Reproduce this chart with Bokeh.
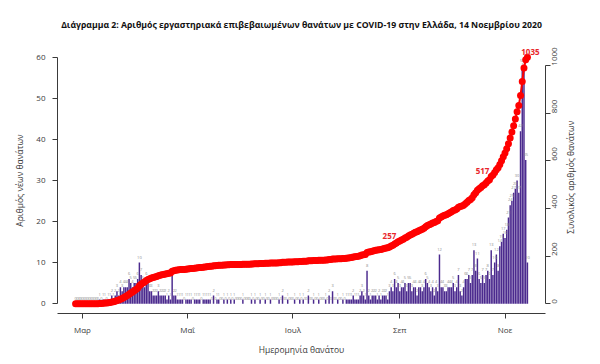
import numpy as np
import pandas as pd
from bokeh.plotting import figure
from bokeh.models import Range1d, LinearAxis, FixedTicker, ColumnDataSource
from bokeh.core.properties import value
from bokeh.embed import file_html
from bokeh.resources import INLINE

# ---------------- data ----------------
start_date = "2020-02-26"
end_date = "2020-11-14"

deaths_feb = [0, 0, 0, 0]
deaths_mar = [0, 0, 0, 0, 0, 0, 0, 0, 0, 0,
              1, 0, 1, 1, 0, 1, 1, 2, 1, 2,
              3, 2, 4, 3, 4, 4, 4, 6, 5, 4, 5]
deaths_apr = [5, 6, 10, 7, 5, 4, 6, 5, 3, 3,
              2, 2, 2, 3, 2, 2, 2, 2, 1, 2,
              1, 7, 2, 2, 1, 1, 1, 1, 0, 1]
deaths_may = [1, 1, 1, 0, 1, 1, 1, 1, 0, 1,
              1, 1, 1, 1, 0, 2, 0, 1, 1, 0,
              0, 1, 0, 1, 0, 1, 0, 1, 0, 0, 0]
deaths_jun = [0, 1, 0, 0, 0, 0, 1, 0, 1, 0,
              0, 1, 0, 0, 1, 0, 0, 1, 0, 0,
              0, 0, 1, 0, 2, 0, 0, 1, 0, 0]
deaths_jul = [0, 1, 0, 0, 1, 0, 1, 0, 0, 2,
              0, 0, 1, 0, 0, 1, 0, 0, 0, 1,
              0, 2, 0, 3, 0, 0, 1, 0, 0, 1, 0]
deaths_aug = [1, 1, 1, 1, 2, 1, 1, 1, 2, 3,
              2, 1, 8, 2, 1, 2, 2, 2, 1, 2,
              1, 2, 2, 2, 1, 3, 4, 3, 6, 4, 5]
deaths_sep = [3, 4, 4, 5, 3, 5, 5, 3, 4, 4,
              2, 4, 4, 3, 4, 6, 5, 4, 3, 4,
              2, 4, 3, 12, 4, 4, 3, 3, 4, 4]
deaths_oct = [4, 5, 3, 4, 7, 3, 2, 4, 6, 6,
              7, 5, 7, 13, 8, 11, 6, 5, 7, 5,
              7, 8, 6, 13, 7, 10, 12, 8, 14, 15, 17]
deaths_nov = [16, 18, 21, 24, 25, 27, 28, 30, 27, 42, 58, 57, 35, 10]

tick_dates = ["2020-03-01", "2020-05-01", "2020-07-01", "2020-09-01", "2020-11-01"]
tick_labels = ["Μαρ", "Μαΐ", "Ιουλ", "Σεπ", "Νοε"]

left_ticks = [0, 10, 20, 30, 40, 50, 60]
right_ticks = [0, 200, 400, 600, 800, 1000]

mark_dates = ["2020-08-26", "2020-10-19", "2020-11-14"]
mark_values = [257, 517, 1035]
mark_texts = ["257", "517", "1035"]

title_text = ("Διάγραμμα 2: Αριθμός εργαστηριακά επιβεβαιωμένων θανάτων με "
              "COVID-19 στην Ελλάδα, 14 Νοεμβρίου 2020")
xlabel = "Ημερομηνία θανάτου"
ylabel_left = "Αριθμός νέων θανάτων"
ylabel_right = "Συνολικός αριθμός θανάτων"

# ---------------- build ----------------
daily = np.array(deaths_feb + deaths_mar + deaths_apr + deaths_may + deaths_jun +
                 deaths_jul + deaths_aug + deaths_sep + deaths_oct + deaths_nov)
dates = pd.date_range(start_date, end_date, freq="D")
origin = pd.Timestamp("2020-03-01")
xday = np.asarray((dates - origin).days, dtype=float)
cum = np.cumsum(daily)

src = ColumnDataSource(dict(x=xday, d=daily, c=cum,
                            ly=daily + 1.3, lt=[str(v) for v in daily]))

span = xday[-1] - xday[0]
pad = 0.04 * span
cpad = 0.04 * cum.max()
x_end = xday[-1] + pad

p = figure(width=600, height=364, output_backend="svg", toolbar_location=None,
           x_range=Range1d(xday[0] - pad, x_end),
           y_range=Range1d(-0.04 * 60, 60 * 1.04),
           min_border_left=57, min_border_right=55,
           min_border_top=42, min_border_bottom=51)
p.extra_y_ranges = {"cum": Range1d(-cpad, cum.max() + cpad)}
p.outline_line_color = None
p.grid.visible = False
p.background_fill_color = "white"

FONT = "Open Sans"
AX = "#3a3a3a"
TICK_FS = "8px"
TITLE_FS = "8.5px"

# bars
p.vbar(x="x", top="d", width=0.85, bottom=0, source=src,
       fill_color="#4B2A8E", line_color=None)
# small value labels above bars
p.text(x="x", y="ly", text="lt", source=src, text_font_size="4px",
       text_color="#8a8a8a", text_align="center", text_baseline="middle",
       text_font=value(FONT))

# cumulative
p.line(x="x", y="c", source=src, y_range_name="cum", line_color="#FF0000", line_width=2)
p.scatter(x="x", y="c", source=src, y_range_name="cum", size=7,
          fill_color="#FF0000", line_color=None)

mx = np.asarray((pd.to_datetime(mark_dates) - origin).days, dtype=float)
msrc = ColumnDataSource(dict(x=mx, y=mark_values, t=mark_texts,
                             xoff=[0, 0, 3], yoff=[-6, -10, -5]))
p.text(x="x", y="y", text="t", source=msrc, y_range_name="cum",
       x_offset="xoff", y_offset="yoff", text_font_size="8px", text_font_style="bold",
       text_color="#E8262B", text_align="center", text_baseline="middle",
       text_font=value(FONT))

# x axis
xax = p.xaxis[0]
tick_pos = [float((pd.Timestamp(t) - origin).days) for t in tick_dates]
xax.ticker = FixedTicker(ticks=tick_pos)
xax.major_label_overrides = {t: l for t, l in zip(tick_pos, tick_labels)}
xax.axis_label = xlabel

# left axis
yax = p.yaxis[0]
yax.ticker = FixedTicker(ticks=left_ticks)
yax.bounds = (0, 60)
yax.axis_label = ylabel_left

# right axis
rax = LinearAxis(y_range_name="cum", ticker=FixedTicker(ticks=right_ticks),
                 bounds=(0, 1000))
p.add_layout(rax, "right")
rax.major_label_orientation = np.pi / 2

for ax in [xax, yax, rax]:
    ax.minor_tick_line_color = None
    ax.major_tick_in = 0
    ax.major_tick_out = 5
    ax.axis_line_color = AX
    ax.major_tick_line_color = AX
    ax.axis_line_width = 1
    ax.major_label_text_font = FONT
    ax.major_label_text_font_size = TICK_FS
    ax.major_label_text_color = AX
    ax.axis_label_text_font = FONT
    ax.axis_label_text_font_size = TITLE_FS
    ax.axis_label_text_font_style = "normal"
    ax.axis_label_text_color = AX

xax.major_label_standoff = 5
xax.axis_label_standoff = 6
yax.major_label_standoff = 7
yax.axis_label_standoff = 8
rax.major_label_standoff = 4

# right axis title: an outer, line-less axis whose single label reads bottom to top
# (the label starts at its tick and runs upward, so the tick sits below the centre)
anchor = 17.0
tax = LinearAxis(ticker=FixedTicker(ticks=[anchor]),
                 major_label_overrides={anchor: ylabel_right})
tax.axis_line_color = None
tax.major_tick_line_color = None
tax.minor_tick_line_color = None
tax.major_tick_in = 0
tax.major_tick_out = 0
tax.major_label_orientation = np.pi / 2
tax.major_label_standoff = 8
tax.major_label_text_font = FONT
tax.major_label_text_font_size = TITLE_FS
tax.major_label_text_color = AX
p.add_layout(tax, "right")

p.title.text = title_text
p.title.text_font = FONT
p.title.text_font_size = "8.7px"
p.title.text_font_style = "bold"
p.title.text_color = "#111111"
p.title.align = "center"
p.title.standoff = 33

open("out.html", "w").write(file_html(p, INLINE))
